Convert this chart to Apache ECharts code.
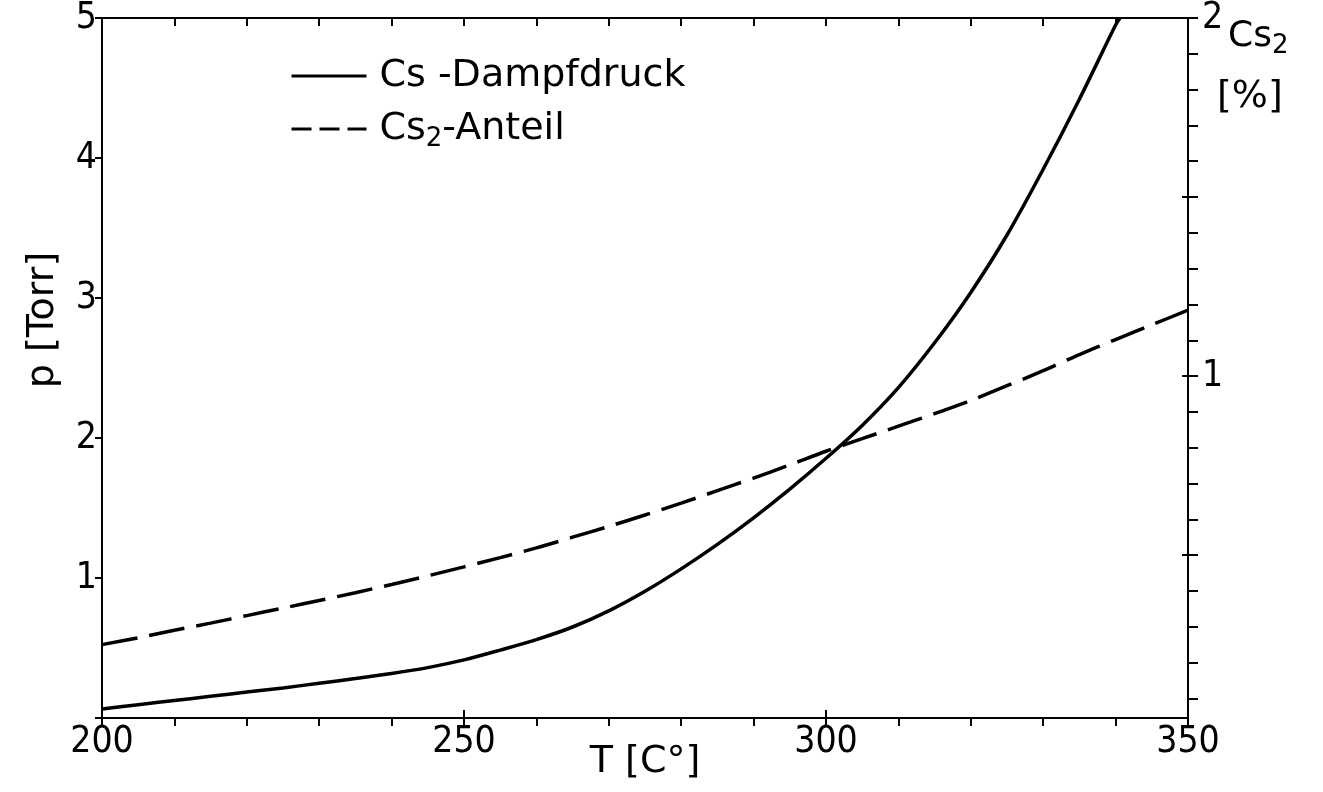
<!DOCTYPE html>
<html><head><meta charset="utf-8">
<script src="https://cdn.jsdelivr.net/npm/echarts@6/dist/echarts.min.js"></script>
<style>html,body{margin:0;padding:0;background:#fff}#c{width:1323px;height:792px}</style>
</head><body><div id="c"></div>
<script>
// Temperature T [°C] and Cs vapour pressure p [Torr] (left axis)
const pressureTemps = [200,205,210,215,220,225,230,235,240,245,250,255,260,265,270,275,280,285,290,295,300,305,310,315,320,325,330,335,340,340.6];
const pressureValues = [0.065,0.095,0.125,0.155,0.185,0.215,0.248,0.282,0.318,0.36,0.415,0.485,0.56,0.65,0.765,0.905,1.065,1.24,1.43,1.635,1.855,2.09,2.36,2.68,3.04,3.45,3.92,4.42,4.95,5.0];
// Cs2 fraction [%] (right axis)
const fractionTemps = [200,205,210,215,220,225,230,235,240,245,250,255,260,265,270,275,280,285,290,295,300,305,310,315,320,325,330,335,340,345,350];
const fractionValues = [0.25,0.269,0.29,0.31,0.331,0.352,0.373,0.395,0.418,0.442,0.467,0.493,0.52,0.55,0.58,0.612,0.645,0.68,0.715,0.752,0.79,0.825,0.86,0.895,0.932,0.973,1.015,1.06,1.102,1.143,1.184];
// tick labels
const xLabels = [200,250,300,350];
const leftLabels = [1,2,3,4,5];
const rightLabels = [1,2];
const rightMinorTicks = [0.1,0.2,0.3,0.4,0.5,0.6,0.7,0.8,0.9,1.0,1.1,1.2,1.3,1.4,1.5,1.6,1.7,1.8,1.9,2.0];
const rightMajorTicks = [0.5,1.0,1.5];
const seriesNames = ['Cs -Dampfdruck','Cs2-Anteil'];

const numFont = "'Liberation Sans Narrow','DejaVu Sans Condensed','Liberation Sans',sans-serif";
const txtFont = "'DejaVu Sans',sans-serif";
const black = '#000';

const chart = echarts.init(document.getElementById('c'));
const line = {show:true, lineStyle:{color:black, width:2}};
chart.setOption({
  animation:false,
  backgroundColor:'#fff',
  grid:{left:102, right:135, top:18, bottom:74, containLabel:false, outerBoundsMode:'none'},
  legend:{
    orient:'vertical', left:285, top:52, itemWidth:75, itemHeight:14, itemGap:15,
    itemStyle:{opacity:0},
    lineStyle:{width:3},
    data:[
      {name:seriesNames[0]},
      {name:seriesNames[1], lineStyle:{type:[20,8], width:3}}
    ],
    formatter:function(n){
      return n===seriesNames[0] ? '{n0|Cs -Dampfdruck}' : '{n0|Cs}{s|2}{n|-Anteil}';
    },
    textStyle:{
      color:black, fontFamily:txtFont, fontSize:38,
      rich:{
        n0:{fontFamily:txtFont,fontSize:38,color:black,lineHeight:46,padding:[0,0,0,8]},
        n:{fontFamily:txtFont,fontSize:38,color:black,lineHeight:46},
        s:{fontFamily:txtFont,fontSize:26,color:black,lineHeight:30,verticalAlign:'bottom'}
      }
    }
  },
  graphic:[
    {type:'text', left:1228, top:19, style:{
      text:'{c|Cs}{s|2}', fill:black,
      rich:{
        c:{fontFamily:txtFont,fontSize:36,fill:black,lineHeight:44},
        s:{fontFamily:txtFont,fontSize:26,fill:black,lineHeight:30,verticalAlign:'bottom'}
      }}},
    {type:'text', left:1217, top:78, style:{text:'[%]', fill:black, fontFamily:txtFont, fontSize:38}}
  ],
  xAxis:[
    {type:'value', position:'bottom', min:200, max:350, interval:10,
     axisLine:line, splitLine:{show:false},
     axisTick:{show:true, length:8, lineStyle:{color:black,width:2}},
     axisLabel:{color:black, fontFamily:numFont, fontSize:37, margin:6,
       formatter:function(v){return xLabels.indexOf(v)>=0 ? String(v) : '';}},
     name:'T [C°]', nameLocation:'middle', nameGap:44, nameMoveOverlap:false,
     nameTextStyle:{color:black, fontFamily:txtFont, fontSize:38, verticalAlign:'middle'}},
    {type:'value', position:'bottom', min:200, max:350, interval:50,
     axisLine:{show:false}, splitLine:{show:false}, axisLabel:{show:false},
     axisTick:{show:true, inside:true, length:8, lineStyle:{color:black,width:2}}},
    {type:'value', position:'top', min:200, max:350, interval:10,
     axisLine:line, splitLine:{show:false}, axisLabel:{show:false},
     axisTick:{show:true, inside:true, length:8, lineStyle:{color:black,width:2}}}
  ],
  yAxis:[
    {type:'value', position:'left', min:0, max:5, interval:1,
     axisLine:line, splitLine:{show:false},
     axisTick:{show:true, length:7, lineStyle:{color:black,width:2}},
     axisLabel:{color:black, fontFamily:numFont, fontSize:37, margin:5,
       formatter:function(v){return leftLabels.indexOf(v)>=0 ? String(v) : '';}},
     name:'p [Torr]', nameLocation:'middle', nameGap:40, nameRotate:90,
     nameTextStyle:{color:black, fontFamily:txtFont, fontSize:38, padding:[0,0,0,96]}},
    {type:'value', position:'right', min:0.045, max:2,
     axisLine:line, splitLine:{show:false},
     axisTick:{show:true, length:10, customValues:rightMinorTicks, lineStyle:{color:black,width:2}},
     axisLabel:{color:black, fontFamily:numFont, fontSize:37, margin:14, customValues:rightLabels,
       formatter:function(v){return String(Math.round(v));}}},
    {type:'value', position:'right', min:0.045, max:2,
     axisLine:{show:false}, splitLine:{show:false}, axisLabel:{show:false},
     axisTick:{show:true, inside:true, length:6, customValues:rightMajorTicks, lineStyle:{color:black,width:2}}}
  ],
  series:[
    {name:seriesNames[0], type:'line', xAxisIndex:0, yAxisIndex:0, smooth:0.3,
     symbol:'none', showSymbol:false,
     lineStyle:{color:black, width:3.5},
     itemStyle:{color:black},
     data:pressureTemps.map(function(t,i){return [t, pressureValues[i]];})},
    {name:seriesNames[1], type:'line', xAxisIndex:0, yAxisIndex:1, smooth:0.3,
     symbol:'none', showSymbol:false,
     lineStyle:{color:black, width:3.5, type:[36,12]},
     itemStyle:{color:black},
     data:fractionTemps.map(function(t,i){return [t, fractionValues[i]];})}
  ]
});
</script>
</body></html>
